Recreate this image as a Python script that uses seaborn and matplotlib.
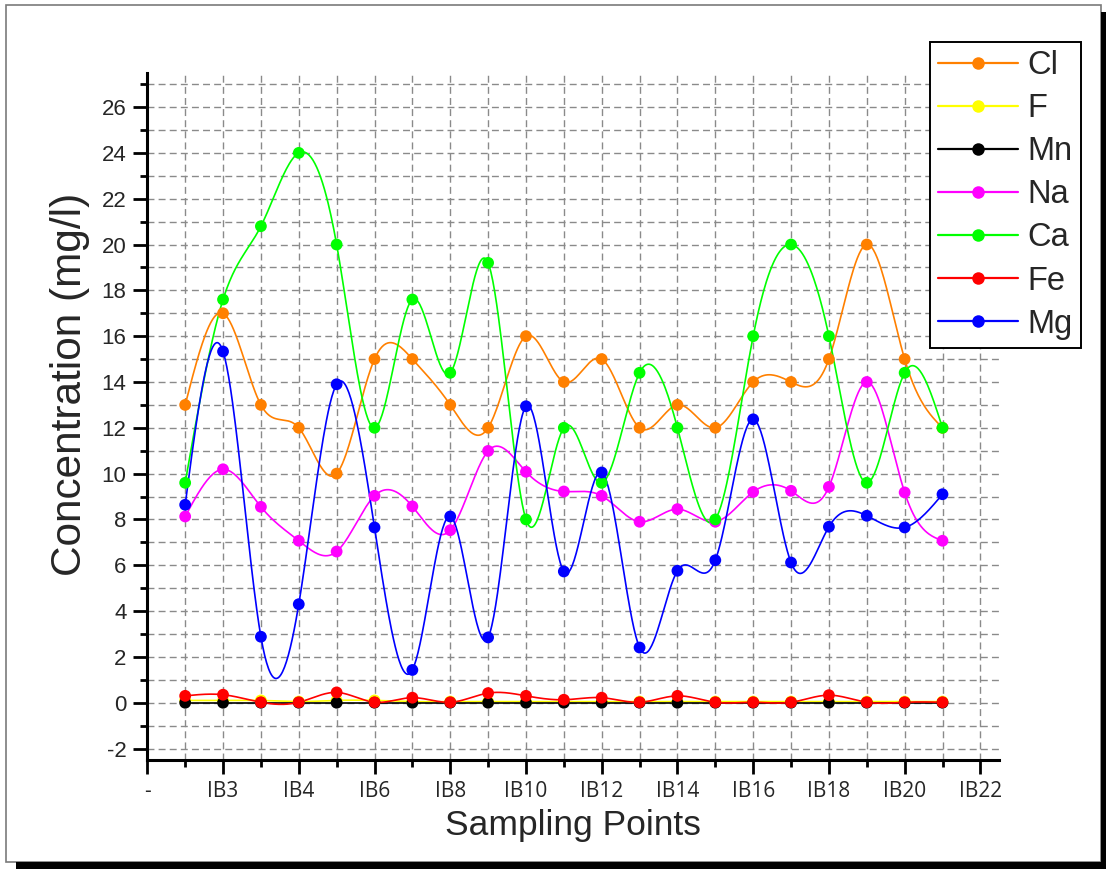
import numpy as np
import pandas as pd
import matplotlib
matplotlib.use("Agg")
import matplotlib.pyplot as plt
from matplotlib.patches import Rectangle
from matplotlib.lines import Line2D
from matplotlib.ticker import MultipleLocator, FixedLocator
import seaborn as sns

# ---- data -------------------------------------------------------------
sample_index = list(range(1, 22))          # sampling point number along the x axis
tick_positions = list(range(0, 23, 2))
tick_labels = ["-", "IB3", "IB4", "IB6", "IB8", "IB10", "IB12",
               "IB14", "IB16", "IB18", "IB20", "IB22"]

cl = [13, 17, 13, 12, 10, 15, 15, 13, 12, 16, 14, 15, 12, 13, 12, 14, 14, 15, 20, 15, 12]
f = [0.1, 0.1, 0.1, 0.05, 0.1, 0.1, 0.05, 0.05, 0.05, 0.05, 0.05,
     0.05, 0.05, 0.05, 0.05, 0.05, 0.05, 0.05, 0.05, 0.05, 0.05]
mn = [0] * 21
na = [8.13, 10.19, 8.55, 7.07, 6.6, 9.03, 8.57, 7.53, 10.99, 10.08, 9.22,
      9.03, 7.9, 8.45, 7.9, 9.2, 9.25, 9.42, 14.0, 9.18, 7.07]
ca = [9.6, 17.6, 20.8, 24, 20, 12, 17.6, 14.4, 19.2, 8, 12,
      9.6, 14.4, 12, 8, 16, 20, 16, 9.6, 14.4, 12]
fe = [0.3, 0.35, 0.02, 0.02, 0.45, 0.02, 0.22, 0.02, 0.42, 0.3, 0.13,
      0.22, 0.02, 0.3, 0.02, 0.02, 0.02, 0.33, 0.02, 0.02, 0.02]
mg = [8.64, 15.33, 2.88, 4.3, 13.9, 7.65, 1.43, 8.13, 2.85, 12.94, 5.73,
      10.05, 2.41, 5.76, 6.22, 12.37, 6.12, 7.68, 8.16, 7.65, 9.1]

series_names = ["Cl", "F", "Mn", "Na", "Ca", "Fe", "Mg"]
series_values = [cl, f, mn, na, ca, fe, mg]
series_colors = ["#FF8000", "#FFFF00", "#000000", "#FF00FF", "#00FF00", "#FF0000", "#0000FF"]


def natural_spline(x, y, per_seg=40):
    """Smooth connecting curve through every point (natural cubic spline)."""
    x = np.asarray(x, float)
    y = np.asarray(y, float)
    n = len(x)
    h = np.diff(x)
    A = np.zeros((n, n))
    r = np.zeros(n)
    A[0, 0] = A[-1, -1] = 1.0
    for i in range(1, n - 1):
        A[i, i - 1] = h[i - 1]
        A[i, i] = 2 * (h[i - 1] + h[i])
        A[i, i + 1] = h[i]
        r[i] = 6 * ((y[i + 1] - y[i]) / h[i] - (y[i] - y[i - 1]) / h[i - 1])
    M = np.linalg.solve(A, r)
    xs, ys = [], []
    for i in range(n - 1):
        t = np.linspace(x[i], x[i + 1], per_seg, endpoint=(i == n - 2))
        a = x[i + 1] - t
        b = t - x[i]
        s = (M[i] * a ** 3 + M[i + 1] * b ** 3) / (6 * h[i]) \
            + (y[i] / h[i] - M[i] * h[i] / 6) * a \
            + (y[i + 1] / h[i] - M[i + 1] * h[i] / 6) * b
        xs.append(t)
        ys.append(s)
    return np.concatenate(xs), np.concatenate(ys)


# ---- figure -----------------------------------------------------------
sns.set_theme(style="white")
plt.rcParams["font.family"] = ["Liberation Sans", "DejaVu Sans"]
plt.rcParams["axes.unicode_minus"] = False

W, H = 1106, 869
fig = plt.figure(figsize=(W / 100, H / 100), dpi=100)
ax = fig.add_axes([147.3 / W, 1 - 760 / H, (999.3 - 147.3) / W, (760 - 72.7) / H])

for name, vals, col in zip(series_names, series_values, series_colors):
    sx, sy = natural_spline(sample_index, vals)
    curve = pd.DataFrame({"x": sx, "y": sy})
    sns.lineplot(data=curve, x="x", y="y", color=col, lw=1.2, sort=False,
                 estimator=None, ax=ax, zorder=3)
    pts = pd.DataFrame({"x": sample_index, "y": vals})
    sns.scatterplot(data=pts, x="x", y="y", color=col, s=72, edgecolor="none",
                    linewidth=0, ax=ax, zorder=4)

ax.set_xlim(0, 22.5)
ax.set_ylim(-2.5, 27.5)

ax.xaxis.set_major_locator(FixedLocator(tick_positions))
ax.set_xticklabels(tick_labels)
ax.xaxis.set_minor_locator(MultipleLocator(1))
ax.yaxis.set_major_locator(MultipleLocator(2))
ax.yaxis.set_minor_locator(MultipleLocator(1))

ax.grid(True, which="both", ls=(0, (5, 3)), color="#8a8a8a", lw=1.0, zorder=0)
ax.set_axisbelow(True)

for side in ["top", "right"]:
    ax.spines[side].set_visible(False)
for side in ["left", "bottom"]:
    ax.spines[side].set_linewidth(2.2)
    ax.spines[side].set_color("black")

ax.tick_params(axis="both", which="major", direction="out", length=10, width=2,
               color="black", bottom=True, left=True)
ax.tick_params(axis="both", which="minor", direction="out", length=5, width=2,
               color="black", bottom=True, left=True)
ax.tick_params(axis="y", which="major", labelsize=16, pad=5)
ax.tick_params(axis="x", which="major", labelsize=15, pad=5)
for lab in ax.get_xticklabels():
    lab.set_fontfamily(["Open Sans", "DejaVu Sans"])

ax.set_xlabel("Sampling Points", fontsize=25.5)
ax.xaxis.set_label_coords(0.5, -0.072)
ax.set_ylabel("Concentration (mg/l)", fontsize=30.5)
ax.yaxis.set_label_coords(-0.067, 0.547)

handles = [Line2D([0], [0], color=c, lw=1.6, marker="o", markersize=9,
                  markeredgewidth=0) for c in series_colors]
leg = fig.legend(handles, series_names, loc="upper right",
                 bbox_to_anchor=(1081 / W, 1 - 42 / H), bbox_transform=fig.transFigure,
                 fontsize=23.5, frameon=True, fancybox=False, framealpha=1,
                 edgecolor="black", borderpad=0.25, labelspacing=0.37,
                 handlelength=2.45, handletextpad=0.3, borderaxespad=0)
leg.get_frame().set_linewidth(1.4)

# page frame with drop shadow
fig.add_artist(Rectangle((6 / W, 1 - 862 / H), (1101 - 6) / W, (862 - 5) / H,
                         transform=fig.transFigure, fill=False, edgecolor="#7a7a7a", lw=1.2))
fig.add_artist(Rectangle((1101 / W, 0), 5 / W, 1 - 12 / H,
                         transform=fig.transFigure, color="black", lw=0))
fig.add_artist(Rectangle((16 / W, 0), (W - 16) / W, 7 / H,
                         transform=fig.transFigure, color="black", lw=0))

fig.savefig("out.png", dpi=100)
